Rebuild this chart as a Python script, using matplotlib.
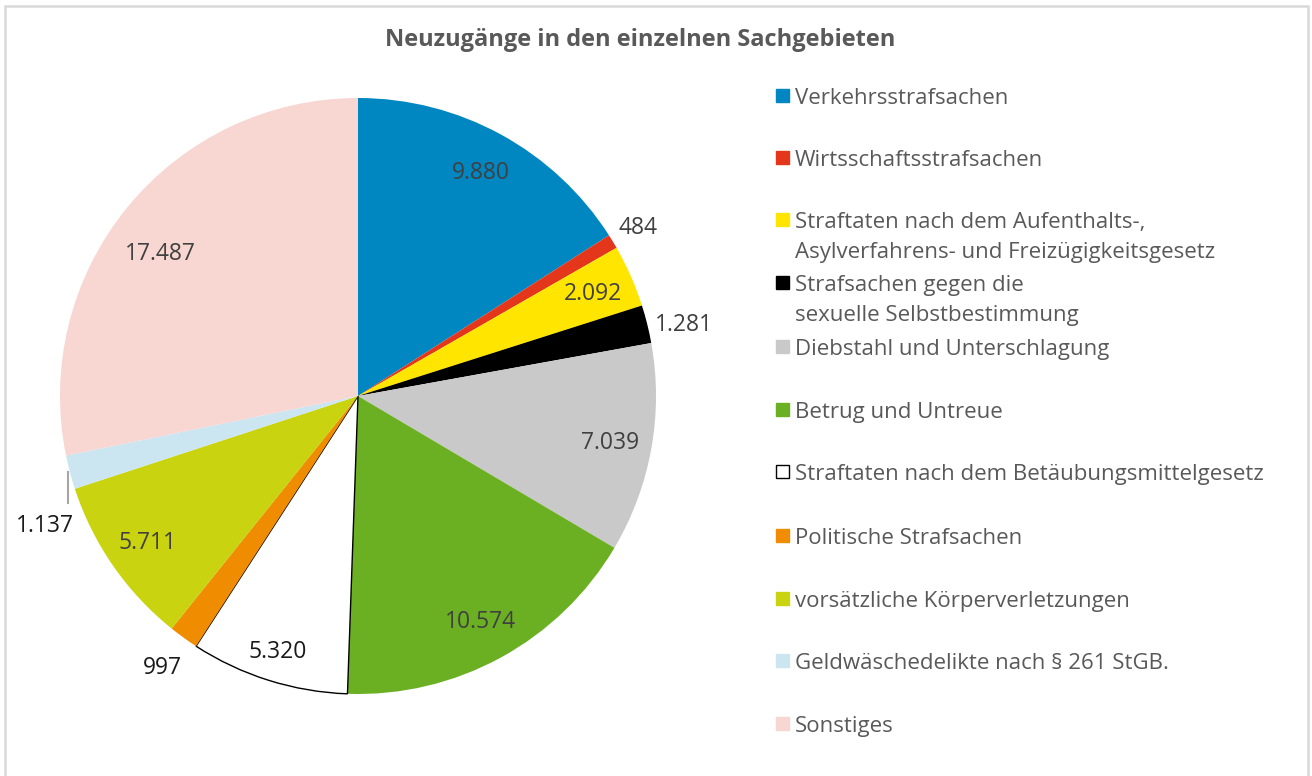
import matplotlib
matplotlib.use("Agg")
import matplotlib.pyplot as plt
import numpy as np
from matplotlib.patches import Rectangle

categories = [
    "Verkehrsstrafsachen",
    "Wirtsschaftsstrafsachen",
    "Straftaten nach dem Aufenthalts-,\nAsylverfahrens- und Freizügigkeitsgesetz",
    "Strafsachen gegen die\nsexuelle Selbstbestimmung",
    "Diebstahl und Unterschlagung",
    "Betrug und Untreue",
    "Straftaten nach dem Betäubungsmittelgesetz",
    "Politische Strafsachen",
    "vorsätzliche Körperverletzungen",
    "Geldwäschedelikte nach § 261 StGB.",
    "Sonstiges",
]
values = [9880, 484, 2092, 1281, 7039, 10574, 5320, 997, 5711, 1137, 17487]
value_labels = ["9.880", "484", "2.092", "1.281", "7.039", "10.574",
                "5.320", "997", "5.711", "1.137", "17.487"]
colors = ["#0086C1", "#E3361B", "#FFE500", "#000000", "#C9C9C9", "#6BB023",
          "#FFFFFF", "#F08C00", "#C9D30F", "#CCE6F1", "#F8D6D1"]

FONT = "Open Sans"
W, H = 1312, 776
fig = plt.figure(figsize=(W / 100, H / 100), dpi=100)
fig.patch.set_facecolor("white")

# frame border
fig.patches.append(Rectangle((5 / W, -0.05), (W - 9) / W, 1.05 - 6 / H,
                             transform=fig.transFigure, fill=False,
                             edgecolor="#D9D9D9", linewidth=1.8))

R = 298.0
cx, cy = 358.0, H - 396.0
lim = 1.2
side = 2 * lim * R
ax = fig.add_axes([(cx - side / 2) / W, (cy - side / 2) / H, side / W, side / H])

wedges, _ = ax.pie(values, colors=colors, startangle=90, counterclock=False,
                   radius=1.0, wedgeprops=dict(linewidth=0))
ax.set_xlim(-lim, lim)
ax.set_ylim(-lim, lim)
ax.set_aspect("equal")
ax.axis("off")
# white slice gets a thin black outline
wedges[6].set_edgecolor("black")
wedges[6].set_linewidth(1.0)

label_r = {1: 1.10, 3: 1.12, 7: 1.12, 6: 0.895, 10: 0.82}
label_dth = {10: 3.4, 3: -1.5}
for i, w in enumerate(wedges):
    if i == 9:
        continue
    th = np.deg2rad((w.theta1 + w.theta2) / 2 + label_dth.get(i, 0.0))
    r = label_r.get(i, 0.86)
    col = "#404040" if i not in (6, 7) else "#1A1A1A"
    ax.text(r * np.cos(th), r * np.sin(th) - 0.005, value_labels[i], ha="center",
            va="center", fontsize=16.5, color=col, family=FONT)

# small slice with leader line
w = wedges[9]
th = np.deg2rad((w.theta1 + w.theta2) / 2)
x0 = np.cos(th) * 1.005
ax.plot([x0, x0], [-0.255, -0.36], color="#A6A6A6", lw=1.5, clip_on=False)
ax.text(-1.05, -0.435, value_labels[9], ha="center", va="center",
        fontsize=16.5, color="#1A1A1A", family=FONT)

fig.text(640 / W, 1 - 40 / H, "Neuzugänge in den einzelnen Sachgebieten",
         ha="center", va="center", fontsize=17, fontweight="bold",
         color="#595959", family=FONT)

# legend
ys = [95, 157, 219, 282, 346, 409, 471, 535, 598, 660, 723]
for lab, c, y in zip(categories, colors, ys):
    fig.patches.append(Rectangle((776 / W, 1 - (y + 7) / H), 13 / W, 13 / H,
                                 transform=fig.transFigure, facecolor=c,
                                 edgecolor="black" if c == "#FFFFFF" else c,
                                 linewidth=1.0))
    fig.text(795 / W, 1 - (y - 7) / H, lab, ha="left", va="top", fontsize=16,
             color="#595959", family=FONT, linespacing=1.55,
             transform=fig.transFigure)

fig.savefig("out.png", dpi=100)
